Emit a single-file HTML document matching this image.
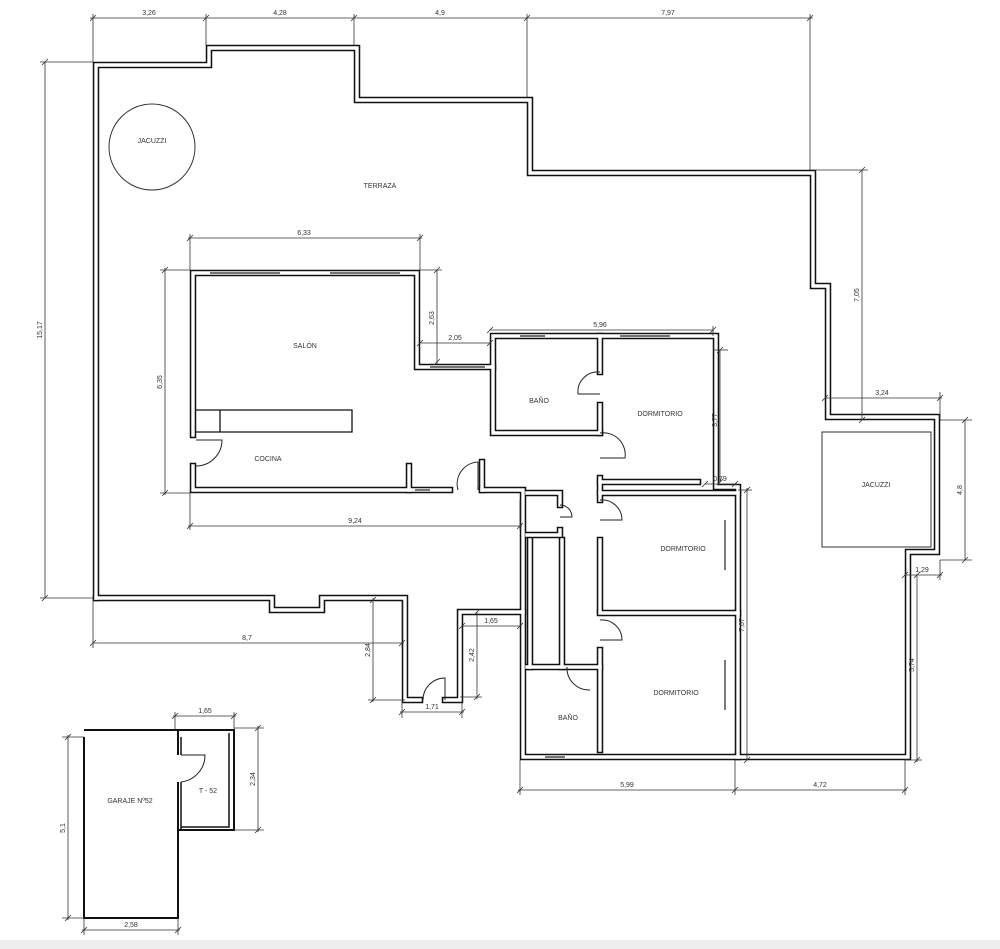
<!DOCTYPE html>
<html><head><meta charset="utf-8"><style>
html,body{margin:0;padding:0;background:#fff}
svg{display:block}
text{font-family:"Liberation Sans",sans-serif;font-size:7px;fill:#333}
.d{stroke:#333;stroke-width:0.8;fill:none}
.t{stroke:#333;stroke-width:0.8}
.a{stroke:#222;stroke-width:1;fill:none}
</style></head><body>
<svg width="1000" height="949" viewBox="0 0 1000 949" xmlns="http://www.w3.org/2000/svg">
<defs>
<g id="walls" fill="none" stroke-linejoin="miter" stroke-linecap="square">
<path d="M96,598 V65 H209 V48 H357 V100 H530 V173 H813 V286 H828 V417 H937 V552 H908 V757 H738"/>
<path d="M193,435 V273 H417 V367 H493 V336 H716 V487 H738 V757 H523 V490 H482"/>
<path d="M193,466 V490 H450"/>
<path d="M493,367 V433 H600"/>
<path d="M600,336 V372 M600,405 V433 M600,478 V500 M600,540 V610 M600,650 V750"/>
<path d="M600,482 H698 M600,493 H738 M600,613 H738 M527,667 H600"/>
<path d="M527,493 H560 V505 M560,530 V535 H527 M530,540 V667 M562,540 V667"/>
<path d="M96,598 H272 V610 H322 V598 H405 V700 H420 M445,700 H460 V612 H523"/>
<path d="M409,466 V490 M482,462 V490"/>
</g>
</defs>
<use href="#walls" stroke="#111" stroke-width="6.5"/>
<use href="#walls" stroke="#fff" stroke-width="3.4"/>

<!-- kitchen counter -->
<path d="M196,410 H352 V432 H220 V410 M196,432 H220" fill="none" stroke="#111" stroke-width="1.3"/>

<!-- windows -->
<g stroke="#222" stroke-width="1.2">
<line x1="210" y1="273" x2="280" y2="273"/><line x1="330" y1="273" x2="400" y2="273"/>
<line x1="430" y1="367" x2="485" y2="367"/>
<line x1="520" y1="336" x2="545" y2="336"/><line x1="620" y1="336" x2="670" y2="336"/>
<line x1="725" y1="520" x2="725" y2="570"/><line x1="725" y1="660" x2="725" y2="710"/>
<line x1="545" y1="757" x2="565" y2="757"/><line x1="415" y1="490" x2="430" y2="490"/>
</g>

<!-- garage -->
<path d="M84,737 V918 H178 V830 H234 V730 H84" fill="none" stroke="#111" stroke-width="2"/>
<path d="M178,730 V755 M178,782 V830 M178,830 H234" stroke="#111" stroke-width="2"/>
<path d="M181,737 V755 M181,782 V830 M229,733 V827 H181" fill="none" stroke="#111" stroke-width="1.5"/>

<!-- door arcs -->
<g class="a">
<path d="M196,440 H222 A26,26 0 0 1 196,466"/>
<path d="M600,372 A20,20 0 0 0 578,394 H600"/>
<path d="M600,433 A22,22 0 0 1 625,458 H600"/>
<path d="M600,500 A20,20 0 0 1 622,520 H600"/>
<path d="M600,620 A20,20 0 0 1 622,640 H600"/>
<path d="M567,667 A22,22 0 0 0 590,690"/>
<path d="M560,505 A12,12 0 0 1 572,517 H560"/>
<path d="M458,490 A22,22 0 0 1 478,462 V490"/>
<path d="M423,700 A22,22 0 0 1 445,678 V700"/>
<path d="M181,755 H205 A27,27 0 0 1 181,782"/>
</g>

<!-- jacuzzis -->
<circle cx="152" cy="147" r="43" fill="none" stroke="#333" stroke-width="1"/>
<rect x="822" y="432" width="109" height="115" fill="none" stroke="#333" stroke-width="1"/>

<!-- dimension lines -->
<g class="d">
<line x1="90" y1="18" x2="813" y2="18"/>
<line x1="93" y1="14" x2="93" y2="62"/><line x1="206" y1="14" x2="206" y2="45"/>
<line x1="354" y1="14" x2="354" y2="45"/><line x1="527" y1="14" x2="527" y2="97"/>
<line x1="810" y1="14" x2="810" y2="170"/>
<line x1="45" y1="62" x2="45" y2="598"/><line x1="40" y1="62" x2="93" y2="62"/><line x1="40" y1="598" x2="93" y2="598"/>
<line x1="188" y1="238" x2="422" y2="238"/><line x1="190" y1="234" x2="190" y2="270"/><line x1="420" y1="234" x2="420" y2="270"/>
<line x1="165" y1="268" x2="165" y2="495"/><line x1="160" y1="270" x2="190" y2="270"/><line x1="160" y1="493" x2="190" y2="493"/>
<line x1="188" y1="526" x2="522" y2="526"/><line x1="190" y1="493" x2="190" y2="530"/><line x1="520" y1="500" x2="520" y2="530"/>
<line x1="437" y1="270" x2="437" y2="364"/><line x1="420" y1="270" x2="442" y2="270"/>
<line x1="420" y1="343" x2="490" y2="343"/><line x1="490" y1="330" x2="713" y2="330"/><line x1="713" y1="326" x2="713" y2="336"/>
<line x1="720" y1="350" x2="720" y2="482"/><line x1="713" y1="350" x2="728" y2="350"/>
<line x1="705" y1="484" x2="737" y2="484"/>
<line x1="747" y1="488" x2="747" y2="760"/><line x1="738" y1="490" x2="752" y2="490"/>
<line x1="862" y1="170" x2="862" y2="420"/><line x1="810" y1="170" x2="868" y2="170"/>
<line x1="825" y1="398" x2="942" y2="398"/><line x1="940" y1="392" x2="940" y2="420"/>
<line x1="965" y1="420" x2="965" y2="560"/><line x1="940" y1="420" x2="972" y2="420"/><line x1="940" y1="560" x2="972" y2="560"/>
<line x1="905" y1="575" x2="942" y2="575"/><line x1="940" y1="560" x2="940" y2="580"/>
<line x1="917" y1="575" x2="917" y2="762"/><line x1="905" y1="760" x2="922" y2="760"/>
<line x1="518" y1="790" x2="907" y2="790"/><line x1="520" y1="760" x2="520" y2="795"/><line x1="735" y1="760" x2="735" y2="795"/><line x1="905" y1="760" x2="905" y2="795"/>
<line x1="93" y1="643" x2="404" y2="643"/><line x1="93" y1="598" x2="93" y2="648"/><line x1="402" y1="600" x2="402" y2="648"/>
<line x1="373" y1="598" x2="373" y2="702"/><line x1="368" y1="700" x2="405" y2="700"/>
<line x1="400" y1="712" x2="464" y2="712"/><line x1="402" y1="702" x2="402" y2="718"/><line x1="462" y1="702" x2="462" y2="718"/>
<line x1="477" y1="612" x2="477" y2="699"/><line x1="460" y1="697" x2="482" y2="697"/>
<line x1="462" y1="626" x2="520" y2="626"/>
<line x1="173" y1="716" x2="236" y2="716"/><line x1="175" y1="712" x2="175" y2="730"/><line x1="234" y1="712" x2="234" y2="730"/>
<line x1="258" y1="726" x2="258" y2="832"/><line x1="234" y1="728" x2="264" y2="728"/><line x1="234" y1="830" x2="264" y2="830"/>
<line x1="68" y1="735" x2="68" y2="920"/><line x1="62" y1="737" x2="84" y2="737"/><line x1="62" y1="918" x2="84" y2="918"/>
<line x1="82" y1="930" x2="180" y2="930"/><line x1="84" y1="918" x2="84" y2="935"/><line x1="178" y1="918" x2="178" y2="935"/>
</g>
<g class="t">
<path d="M90,21 l6,-6 M203,21 l6,-6 M351,21 l6,-6 M524,21 l6,-6 M807,21 l6,-6"/>
<path d="M42,65 l6,-6 M42,601 l6,-6 M187,241 l6,-6 M417,241 l6,-6 M162,273 l6,-6 M162,496 l6,-6"/>
<path d="M187,529 l6,-6 M517,529 l6,-6 M434,273 l6,-6 M434,365 l6,-6 M417,346 l6,-6 M487,346 l6,-6 M487,333 l6,-6 M710,333 l6,-6"/>
<path d="M717,353 l6,-6 M717,485 l6,-6 M702,487 l6,-6 M732,487 l6,-6 M744,493 l6,-6 M744,763 l6,-6"/>
<path d="M859,173 l6,-6 M859,423 l6,-6 M822,401 l6,-6 M937,401 l6,-6 M962,423 l6,-6 M962,563 l6,-6"/>
<path d="M902,578 l6,-6 M937,578 l6,-6 M914,578 l6,-6 M914,763 l6,-6 M517,793 l6,-6 M732,793 l6,-6 M902,793 l6,-6"/>
<path d="M90,646 l6,-6 M399,646 l6,-6 M370,603 l6,-6 M370,703 l6,-6 M399,715 l6,-6 M459,715 l6,-6 M474,615 l6,-6 M474,700 l6,-6"/>
<path d="M459,629 l6,-6 M517,629 l6,-6 M172,719 l6,-6 M231,719 l6,-6 M255,731 l6,-6 M255,833 l6,-6 M65,740 l6,-6 M65,921 l6,-6 M81,933 l6,-6 M175,933 l6,-6"/>
</g>

<!-- dimension labels -->
<g>
<text x="149" y="15" text-anchor="middle">3,26</text>
<text x="280" y="15" text-anchor="middle">4,28</text>
<text x="440" y="15" text-anchor="middle">4,9</text>
<text x="668" y="15" text-anchor="middle">7,97</text>
<text x="304" y="235" text-anchor="middle">6,33</text>
<text x="355" y="523" text-anchor="middle">9,24</text>
<text x="455" y="340" text-anchor="middle">2,05</text>
<text x="600" y="327" text-anchor="middle">5,96</text>
<text x="720" y="481" text-anchor="middle">0,79</text>
<text x="882" y="395" text-anchor="middle">3,24</text>
<text x="922" y="572" text-anchor="middle">1,29</text>
<text x="627" y="787" text-anchor="middle">5,99</text>
<text x="820" y="787" text-anchor="middle">4,72</text>
<text x="247" y="640" text-anchor="middle">8,7</text>
<text x="432" y="709" text-anchor="middle">1,71</text>
<text x="491" y="623" text-anchor="middle">1,65</text>
<text x="205" y="713" text-anchor="middle">1,65</text>
<text x="131" y="927" text-anchor="middle">2,58</text>
<text transform="translate(42,330) rotate(-90)" text-anchor="middle">15,17</text>
<text transform="translate(162,382) rotate(-90)" text-anchor="middle">6,35</text>
<text transform="translate(434,318) rotate(-90)" text-anchor="middle">2,63</text>
<text transform="translate(717,420) rotate(-90)" text-anchor="middle">3,77</text>
<text transform="translate(744,625) rotate(-90)" text-anchor="middle">7,67</text>
<text transform="translate(859,295) rotate(-90)" text-anchor="middle">7,05</text>
<text transform="translate(962,490) rotate(-90)" text-anchor="middle">4,8</text>
<text transform="translate(914,665) rotate(-90)" text-anchor="middle">5,74</text>
<text transform="translate(370,650) rotate(-90)" text-anchor="middle">2,84</text>
<text transform="translate(474,655) rotate(-90)" text-anchor="middle">2,42</text>
<text transform="translate(255,779) rotate(-90)" text-anchor="middle">2,34</text>
<text transform="translate(65,828) rotate(-90)" text-anchor="middle">5,1</text>
</g>

<!-- room labels -->
<g>
<text x="152" y="143" text-anchor="middle">JACUZZI</text>
<text x="380" y="188" text-anchor="middle">TERRAZA</text>
<text x="305" y="348" text-anchor="middle">SALÓN</text>
<text x="268" y="461" text-anchor="middle">COCINA</text>
<text x="539" y="403" text-anchor="middle">BAÑO</text>
<text x="660" y="416" text-anchor="middle">DORMITORIO</text>
<text x="683" y="551" text-anchor="middle">DORMITORIO</text>
<text x="676" y="695" text-anchor="middle">DORMITORIO</text>
<text x="568" y="720" text-anchor="middle">BAÑO</text>
<text x="876" y="487" text-anchor="middle">JACUZZI</text>
<text x="130" y="803" text-anchor="middle">GARAJE Nº52</text>
<text x="208" y="793" text-anchor="middle">T - 52</text>
</g>
<rect x="0" y="940" width="1000" height="9" fill="#eee"/>
</svg>
</body></html>
